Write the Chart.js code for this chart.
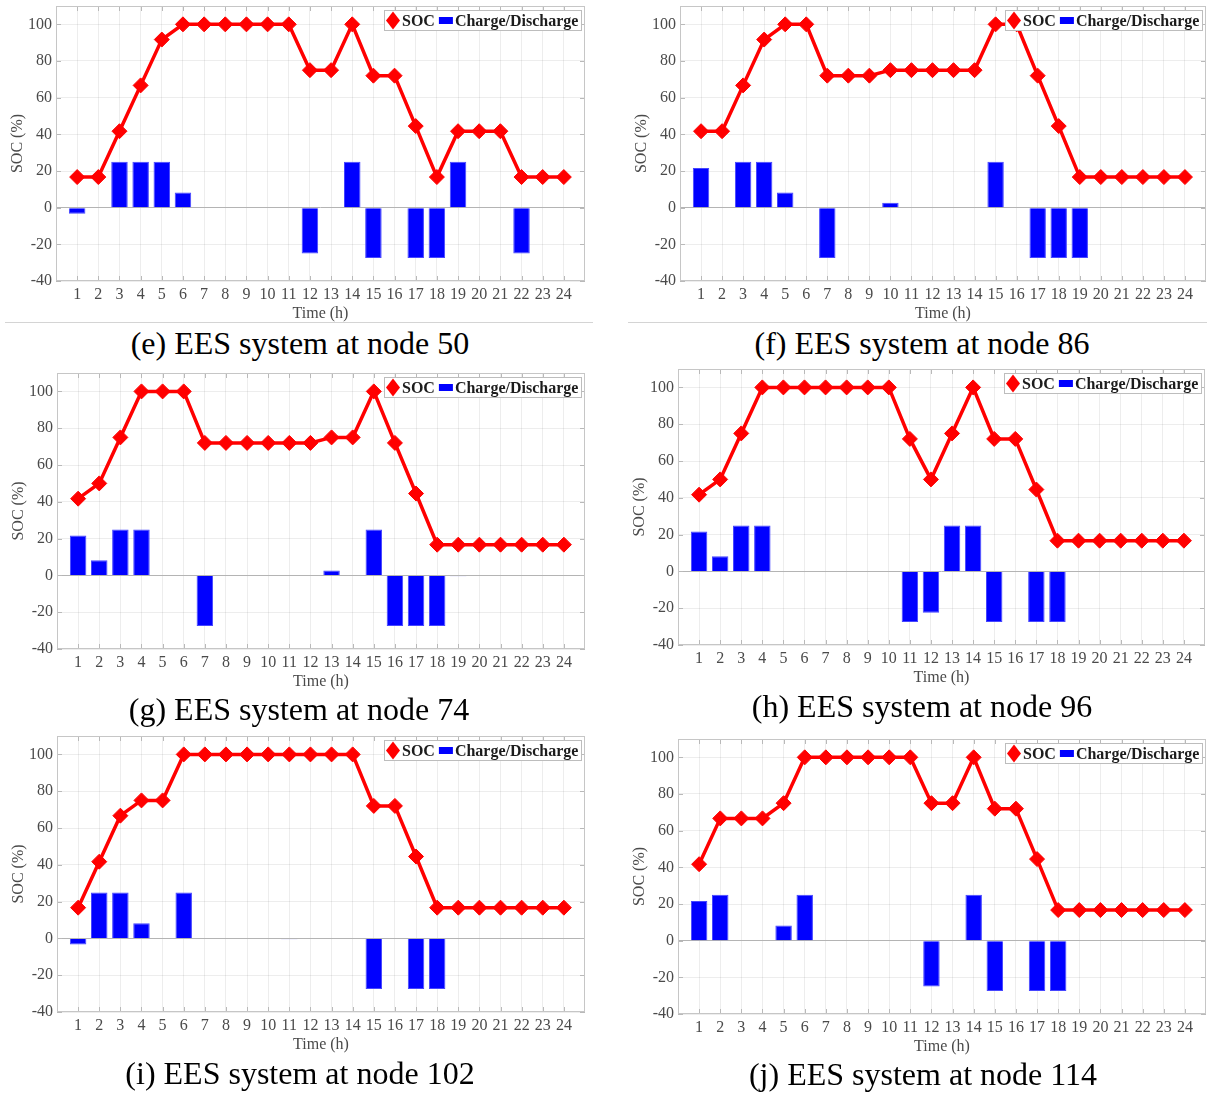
<!DOCTYPE html>
<html><head><meta charset="utf-8">
<script src="https://cdn.jsdelivr.net/npm/chart.js@4.4.1/dist/chart.umd.min.js"></script>
<style>
html,body{margin:0;padding:0;background:#fff;}
#wrap{position:relative;width:1207px;height:1093px;overflow:hidden;background:#fff;}
canvas{position:absolute;}
.cap{position:absolute;font-family:'Liberation Serif','Times New Roman',serif;font-size:32px;line-height:32px;white-space:nowrap;color:#000;transform:translateX(-50%);}
.sep{position:absolute;height:1px;background:#d4d4d4;}
</style></head><body><div id="wrap"></div>
<script>
// ---------- data ----------
const hours = [1,2,3,4,5,6,7,8,9,10,11,12,13,14,15,16,17,18,19,20,21,22,23,24];
const xTicks = hours;
const yTicks = [-40,-20,0,20,40,60,80,100];

const socE = [16.7,16.7,41.7,66.7,91.7,100,100,100,100,100,100,75,75,100,72,72,44.5,16.7,41.7,41.7,41.7,16.7,16.7,16.7];
const barE = [-3.3,0,25,25,25,8.3,0,0,0,0,0,-25,0,25,-27.5,0,-27.5,-27.5,25,0,0,-25,0,0];

const socF = [41.7,41.7,66.7,91.7,100,100,72,72,72,75,75,75,75,75,100,100,72,44.5,16.7,16.7,16.7,16.7,16.7,16.7];
const barF = [21.7,0,25,25,8.3,0,-27.5,0,0,2.7,0,0,0,0,25,0,-27.5,-27.5,-27.5,0,0,0,0,0];

const socG = [41.7,50,75,100,100,100,72,72,72,72,72,72,75,75,100,72,44.5,16.7,16.7,16.7,16.7,16.7,16.7,16.7];
const barG = [21.7,8.3,25,25,0,0,-27.5,0,0,0,0,0,2.7,0,25,-27.5,-27.5,-27.5,-0.4,0,0,0,0,0];

const socH = [41.7,50,75,100,100,100,100,100,100,100,72,50,75,100,72,72,44.5,16.7,16.7,16.7,16.7,16.7,16.7,16.7];
const barH = [21.7,8.3,25,25,0,0,0,0,0,0,-27.5,-22.5,25,25,-27.5,0,-27.5,-27.5,0,0,0,0,0,0];

const socI = [16.7,41.7,66.7,75,75,100,100,100,100,100,100,100,100,100,72,72,44.5,16.7,16.7,16.7,16.7,16.7,16.7,16.7];
const barI = [-3.3,25,25,8.3,0,25,0,0,0,0,-0.4,0,0,0,-27.5,0,-27.5,-27.5,0,0,0,0,0,0];

const socJ = [41.7,66.7,66.7,66.7,75,100,100,100,100,100,100,75,75,100,72,72,44.5,16.7,16.7,16.7,16.7,16.7,16.7,16.7];
const barJ = [21.7,25,0,0,8.3,25,0,0,0,0,0,-25,0,25,-27.5,0,-27.5,-27.5,0,0,0,0,0,0];

const seriesNames = ['SOC','Charge/Discharge'];
const axisTitles = {x:'Time (h)', y:'SOC (%)'};
const captions = ['(e) EES system at node 50','(f) EES system at node 86','(g) EES system at node 74',
                  '(h) EES system at node 96','(i) EES system at node 102','(j) EES system at node 114'];

// ---------- layout ----------
const panels = [
  {soc:socE, bar:barE, cap:captions[0], L:56,  R:585,  T:6,   B:281,  cx:300, cb:354},
  {soc:socF, bar:barF, cap:captions[1], L:680, R:1206, T:6,   B:281,  cx:922, cb:354},
  {soc:socG, bar:barG, cap:captions[2], L:57,  R:585,  T:373, B:649,  cx:299, cb:720},
  {soc:socH, bar:barH, cap:captions[3], L:678, R:1205, T:369, B:645,  cx:922, cb:717},
  {soc:socI, bar:barI, cap:captions[4], L:57,  R:585,  T:736, B:1012, cx:300, cb:1084},
  {soc:socJ, bar:barJ, cap:captions[5], L:678, R:1206, T:739, B:1014, cx:923, cb:1085}
];
const YW = 56, XH = 44, PT = 10, PR = 10;
const FAM = '"Liberation Serif","Times New Roman",serif';
const TXT = '#4a4a4a';

function zeroPad(s) { s.paddingTop = 0; s.paddingBottom = 0; s.paddingLeft = 0; s.paddingRight = 0; }

const framePlugin = {
  id: 'frame',
  beforeDatasetsDraw(chart) {
    const {ctx, chartArea: a, scales: {x, y}} = chart;
    ctx.save();
    ctx.strokeStyle = '#b9b9b9'; ctx.lineWidth = 1;
    ctx.beginPath();
    x.ticks.forEach(t => {
      const px = Math.round(x.getPixelForValue(t.value)) + 0.5;
      ctx.moveTo(px, a.bottom); ctx.lineTo(px, a.bottom - 5);
      ctx.moveTo(px, a.top); ctx.lineTo(px, a.top + 5);
    });
    y.ticks.forEach(t => {
      const py = Math.round(y.getPixelForValue(t.value)) + 0.5;
      ctx.moveTo(a.left, py); ctx.lineTo(a.left + 5, py);
      ctx.moveTo(a.right, py); ctx.lineTo(a.right - 5, py);
    });
    ctx.stroke();
    ctx.strokeStyle = '#c6c6c6';
    ctx.strokeRect(a.left + 0.5, a.top + 0.5, a.right - a.left - 1, a.bottom - a.top - 1);
    ctx.restore();
  },
  afterDatasetsDraw(chart) {
    const {ctx, chartArea: a} = chart;
    const ds = chart.data.datasets;
    ctx.save();
    ctx.font = 'bold 16px ' + FAM;
    const w1 = ctx.measureText(ds[0].label).width, w2 = ctx.measureText(ds[1].label).width;
    const bw = Math.round(18 + w1 + 4 + 14 + 2 + w2 + 3), bh = 20;
    const bx = Math.round(a.right - 4 - bw), by = Math.round(a.top + 4);
    ctx.fillStyle = '#fff'; ctx.fillRect(bx, by, bw, bh);
    ctx.strokeStyle = '#bdbdbd'; ctx.lineWidth = 1; ctx.strokeRect(bx + 0.5, by + 0.5, bw, bh);
    const cy = by + bh / 2 + 0.5;
    ctx.fillStyle = ds[0].borderColor;
    ctx.beginPath();
    ctx.moveTo(bx + 9, cy - 9); ctx.lineTo(bx + 16, cy); ctx.lineTo(bx + 9, cy + 9); ctx.lineTo(bx + 2, cy);
    ctx.closePath(); ctx.fill();
    ctx.fillStyle = '#1c1c1c'; ctx.textAlign = 'left'; ctx.textBaseline = 'alphabetic';
    ctx.fillText(ds[0].label, bx + 18, cy + 5.8);
    const rx = bx + 18 + w1 + 4;
    ctx.fillStyle = ds[1].backgroundColor; ctx.fillRect(rx, cy - 3.5, 14, 7);
    ctx.fillStyle = '#1c1c1c';
    ctx.fillText(ds[1].label, rx + 16, cy + 5.8);
    ctx.restore();
  }
};

const wrap = document.getElementById('wrap');

panels.forEach(p => {
  const cv = document.createElement('canvas');
  const left = p.L - YW, top = p.T - PT;
  const w = YW + (p.R - p.L) + PR, h = PT + (p.B - p.T) + XH;
  cv.width = w; cv.height = h;
  cv.style.left = left + 'px'; cv.style.top = top + 'px';
  cv.style.width = w + 'px'; cv.style.height = h + 'px';
  wrap.appendChild(cv);

  new Chart(cv, {
    type: 'bar',
    data: {
      datasets: [
        { type: 'line', label: seriesNames[0], order: 0,
          data: hours.map((hh, i) => ({x: hh, y: p.soc[i]})),
          borderColor: '#ff0000', backgroundColor: '#ff0000', borderWidth: 3.5, tension: 0,
          pointStyle: 'rectRot', pointRadius: 7.5, pointBorderWidth: 1,
          pointBackgroundColor: '#ff0000', pointBorderColor: '#ff0000' },
        { type: 'bar', label: seriesNames[1], order: 1,
          data: hours.map((hh, i) => ({x: hh, y: p.bar[i]})),
          backgroundColor: '#0000ff', borderColor: '#4646ff', borderWidth: 1,
          barPercentage: 0.78, categoryPercentage: 1 }
      ]
    },
    options: {
      responsive: false, animation: false, devicePixelRatio: 1, events: [],
      layout: {padding: {top: PT, right: PR, left: 0, bottom: 0}},
      plugins: {legend: {display: false}, tooltip: {enabled: false}},
      scales: {
        x: {
          type: 'linear', min: 0, max: 25, bounds: 'data', offset: false,
          afterBuildTicks: s => { s.ticks = xTicks.map(v => ({value: v})); },
          afterFit: s => { s.height = XH; zeroPad(s); },
          ticks: {autoSkip: false, maxRotation: 0, minRotation: 0, padding: 4, color: TXT,
                  font: {family: FAM, size: 16}},
          grid: {offset: false, drawTicks: false, color: 'rgba(0,0,0,0.07)'},
          border: {display: false},
          title: {display: true, text: axisTitles.x, color: TXT, font: {family: FAM, size: 16},
                  padding: {top: 0, bottom: 1.4}}
        },
        y: {
          type: 'linear', min: -40, max: 110, bounds: 'data',
          afterBuildTicks: s => { s.ticks = yTicks.map(v => ({value: v})); },
          afterFit: s => { s.width = YW; zeroPad(s); },
          ticks: {padding: 4, color: TXT, font: {family: FAM, size: 16}},
          grid: {drawTicks: false, color: c => (c.tick && c.tick.value === 0) ? '#b4b4b4' : 'rgba(0,0,0,0.07)'},
          border: {display: false},
          title: {display: true, text: axisTitles.y, color: TXT, font: {family: FAM, size: 16},
                  padding: {top: 8.4, bottom: 0}}
        }
      }
    },
    plugins: [framePlugin]
  });

  const c = document.createElement('div'); c.className = 'cap';
  c.textContent = p.cap;
  c.style.left = p.cx + 'px'; c.style.top = (p.cb - 26.8) + 'px';
  wrap.appendChild(c);
});

// separators in first row (drawn above canvases)
[[5,322,588],[628,322,579]].forEach(([l,t,w]) => {
  const d = document.createElement('div'); d.className = 'sep';
  d.style.left = l + 'px'; d.style.top = t + 'px'; d.style.width = w + 'px';
  wrap.appendChild(d);
});
</script></body></html>
